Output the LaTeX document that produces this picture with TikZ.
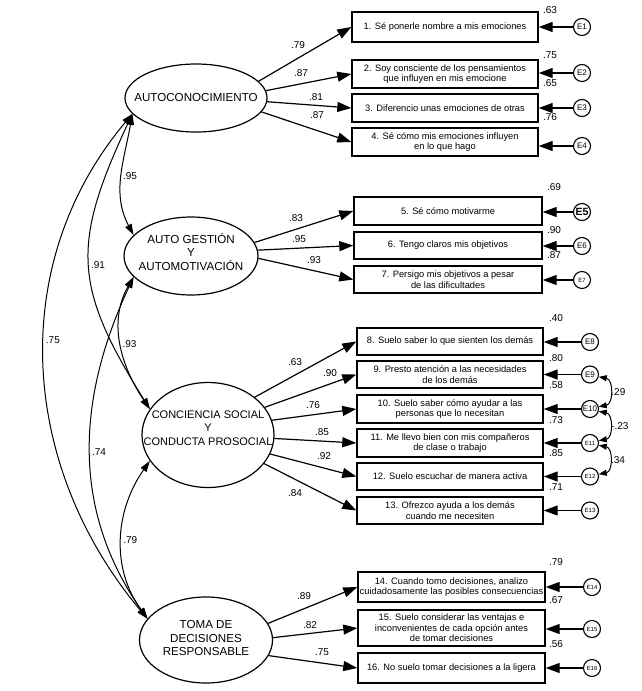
\documentclass[tikz,border=0pt]{standalone}
\usepackage{fontspec}
\setmainfont{Liberation Sans}
\usetikzlibrary{arrows.meta,shapes.geometric}

\begin{document}
\begin{tikzpicture}[x=1pt,y=1pt,
  latent/.style={draw, ellipse, line width=1.2pt, inner sep=0pt},
  lat/.style={font=\fontsize{11.6}{13.4}\selectfont, align=center, inner sep=0pt},
  item/.style={draw, rectangle, line width=1.4pt, minimum width=186, inner sep=0pt,
    align=center, font=\fontsize{9.3}{10.4}\selectfont},
  err/.style={draw, circle, line width=1.1pt, minimum size=17, inner sep=0pt,
    font=\fontsize{8}{8}\selectfont},
  small/.style={font=\fontsize{6}{6}\selectfont},
  num/.style={font=\fontsize{10}{10}\selectfont, inner sep=1pt},
  load/.style={-{Triangle[length=14pt,width=10pt]}, line width=1.2pt},
  cov/.style={{Triangle[length=11pt,width=7pt]}-{Triangle[length=11pt,width=7pt]}, line width=1pt},
  ecov/.style={{Triangle[length=8pt,width=6pt]}-{Triangle[length=8pt,width=6pt]}, line width=1pt},
]
\useasboundingbox (0,0) rectangle (642,-691);

% latent factors
\node[latent, minimum width=142, minimum height=68,
  label={[lat]center:AUTOCONOCIMIENTO}] (ac) at (196,-98) {};
\node[latent, minimum width=134, minimum height=78,
  label={[lat,yshift=4pt]center:AUTO GESTIÓN\\Y\\AUTOMOTIVACIÓN}] (ag) at (191,-256) {};
\node[latent, minimum width=132, minimum height=105,
  label={[lat,font=\fontsize{11}{13.4}\selectfont,yshift=7pt]center:CONCIENCIA SOCIAL\\Y\\CONDUCTA PROSOCIAL}] (cs) at (208,-435) {};
\node[latent, minimum width=133, minimum height=86,
  label={[lat,yshift=2pt]center:TOMA DE\\DECISIONES\\RESPONSABLE}] (tm) at (206,-640) {};

% observed items
\node[item, minimum height=30] (b1) at (445,-27) {1. Sé ponerle nombre a mis emociones};
\node[item, minimum height=28] (b2) at (445,-74) {2. Soy consciente de los pensamientos\\que influyen en mis emocione};
\node[item, minimum height=28] (b3) at (445,-108) {3. Diferencio unas emociones de otras};
\node[item, minimum height=28] (b4) at (445,-142) {4. Sé cómo mis emociones influyen\\en lo que hago};
\node[item, minimum width=188, minimum height=28] (b5) at (448,-211) {5. Sé cómo motivarme};
\node[item, minimum width=188, minimum height=27] (b6) at (448,-245.5) {6. Tengo claros mis objetivos};
\node[item, minimum width=188, minimum height=27] (b7) at (448,-279.5) {7. Persigo mis objetivos a pesar\\de las dificultades};
\node[item, minimum height=27] (b8) at (450,-341.5) {8. Suelo saber lo que sienten los demás};
\node[item, minimum height=27] (b9) at (450,-374.5) {9. Presto atención a las necesidades\\de los demás};
\node[item, minimum height=28] (b10) at (450,-409) {10. Suelo saber cómo ayudar a las\\personas que lo necesitan};
\node[item, minimum height=28] (b11) at (450,-443) {11. Me llevo bien con mis compañeros\\de clase o trabajo};
\node[item, minimum height=27] (b12) at (450,-476.5) {12. Suelo escuchar de manera activa};
\node[item, minimum height=27] (b13) at (450,-510.5) {13. Ofrezco ayuda a los demás\\cuando me necesiten};
\node[item, minimum width=187, minimum height=30] (b14) at (451.5,-587) {14. Cuando tomo decisiones, analizo\\cuidadosamente las posibles consecuencias};
\node[item, minimum width=187, minimum height=36] (b15) at (451.5,-628) {15. Suelo considerar las ventajas e\\inconvenientes de cada opción antes\\de tomar decisiones};
\node[item, minimum width=187, minimum height=30] (b16) at (451.5,-668) {16. No suelo tomar decisiones a la ligera};

% error terms
\node[err] (e1) at (582,-27) {E1};
\node[err] (e2) at (582,-73) {E2};
\node[err] (e3) at (582,-108) {E3};
\node[err] (e4) at (582,-146) {E4};
\node[err, font=\bfseries\fontsize{10.5}{10.5}\selectfont] (e5) at (582,-212) {E5};
\node[err] (e6) at (582,-246) {E6};
\node[err, small] (e7) at (582,-280) {E7};
\node[err] (e8) at (590,-342) {E8};
\node[err] (e9) at (590,-374.5) {E9};
\node[err] (e10) at (590,-409) {E10};
\node[err, small] (e11) at (590,-443) {E11};
\node[err, small] (e12) at (590,-476.5) {E12};
\node[err, small] (e13) at (590,-510.5) {E13};
\node[err, small] (e14) at (592,-587) {E14};
\node[err, small] (e15) at (592,-629) {E15};
\node[err, small] (e16) at (592,-668) {E16};
\foreach \i in {1,...,16}
  \draw[load] (e\i) -- (e\i -| b\i.east);

% loadings
\draw[load] (ac.15) -- (b1.west);
\draw[load] (ac.6) -- (b2.west);
\draw[load] (ac.357) -- (b3.west);
\draw[load] (ac.348) -- (b4.west);
\draw[load] (ag.12) -- (b5.west);
\draw[load] (ag.5) -- (b6.west);
\draw[load] (ag.358) -- (b7.west);
\draw[load] (cs.39) -- (b8.west);
\draw[load] (cs.26) -- (b9.west);
\draw[load] (cs.13) -- (b10.west);
\draw[load] (cs.357) -- (b11.west);
\draw[load] (cs.343) -- (b12.west);
\draw[load] (cs.333) -- (b13.west);
\draw[load] (tm.15) -- (b14.west);
\draw[load] (tm.2) -- (b15.west);
\draw[load] (tm.346) -- (b16.west);
\foreach \x/\y/\t [count=\k] in {298/45/.79, 301/73/.87, 316/97/.81, 317/115/.87,
    296/218/.83, 299/239/.95, 314/260/.93,
    295/362/.63, 330/373/.90, 313/405/.76, 322/432/.85, 324/456/.92, 295/493/.84,
    304/596/.89, 310/625/.82, 322/652/.75}
  \node[num] (w\k) at (\x,-\y) {\t};

% squared multiple correlations
\foreach \x/\y/\t [count=\k] in {550/10/.63, 550/55/.75, 550/83/.65, 550/117/.76,
    554/187/.69, 554/230/.90, 554/255/.87,
    556/318/.40, 556/358/.80, 556/385/.58, 556/420/.73, 556/453/.85, 556/487/.71,
    556/562/.79, 556/600/.67, 556/644/.56}
  \node[num] (r\k) at (\x,-\y) {\t};

% factor correlations
\draw[cov] (ac.194) to[out=260,in=118] node[num,right] (c1) {.95} (ag.160);
\draw[cov] (ac.194) to[out=245,in=122,looseness=1.25] node[num,right] (c2) {.91} (cs.156);
\draw[cov] (ac.194) to[out=230,in=130] node[num,right,pos=0.45] (c3) {.75} (tm.160);
\draw[cov] (ag.200) to[out=240,in=124] node[num,right] (c4) {.93} (cs.156);
\draw[cov] (ag.200) to[out=245,in=125] node[num,right] (c5) {.74} (tm.160);
\draw[cov] (cs.204) to[out=235,in=126] node[num,right] (c6) {.79} (tm.160);

% error covariances
\draw[ecov] (e9.-15) to[out=-10,in=10,looseness=1.3] node[num,right] (k1) {.29} (e10.15);
\draw[ecov] (e10.-15) to[out=-10,in=10,looseness=1.3] node[num,right] (k2) {-.23} (e11.15);
\draw[ecov] (e11.-15) to[out=-10,in=10,looseness=1.3] node[num,right] (k3) {.34} (e12.15);
\end{tikzpicture}
\end{document}
